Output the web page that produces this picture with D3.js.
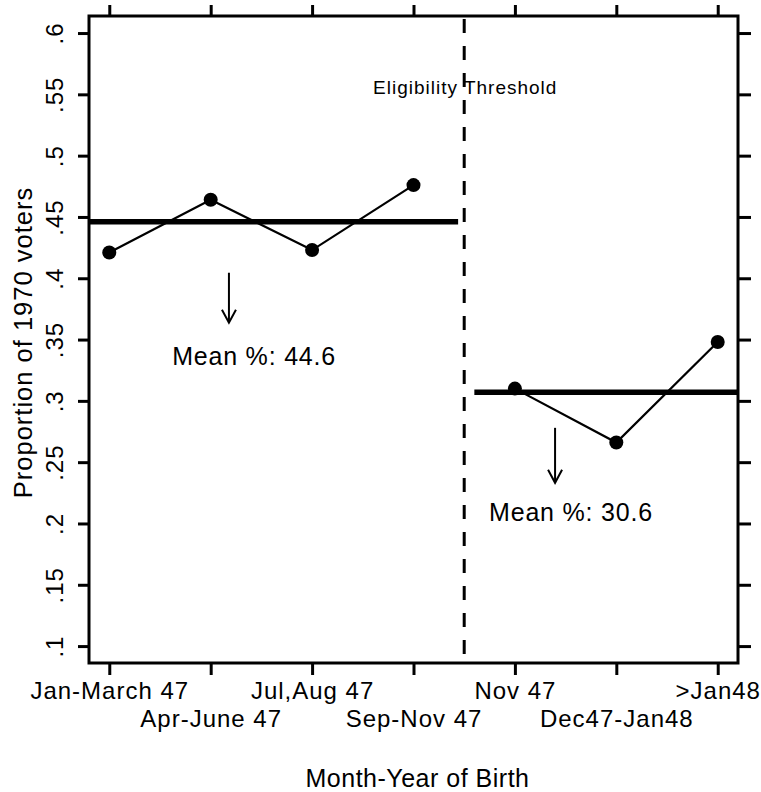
<!DOCTYPE html>
<html>
<head>
<meta charset="utf-8">
<script src="https://cdn.jsdelivr.net/npm/d3@7"></script>
<style>
  body { margin: 0; background: #fff; }
  svg text { font-family: "Liberation Sans", Arial, sans-serif; fill: #000; }
</style>
</head>
<body>
<svg id="chart" width="761" height="792"></svg>
<script>
// categories on the x axis (month-year of birth)
const categories = ["Jan-March 47", "Apr-June 47", "Jul,Aug 47", "Sep-Nov 47", "Nov 47", "Dec47-Jan48", ">Jan48"]
// proportion of 1970 voters in each group
const voterShare = [0.421, 0.464, 0.423, 0.476, 0.310, 0.266, 0.348]
// group means, before and after the threshold
const meanValues = [0.446, 0.307]
const meanLabels = ["Mean %: 44.6", "Mean %: 30.6"]
// y ticks
const yTicks = [0.1, 0.15, 0.2, 0.25, 0.3, 0.35, 0.4, 0.45, 0.5, 0.55, 0.6]
const yTickLabels = [".1", ".15", ".2", ".25", ".3", ".35", ".4", ".45", ".5", ".55", ".6"]

const svg = d3.select('#chart')
const pLeft = 89, pRight = 738, pTop = 16, pBottom = 663

const x = d3.scaleLinear().domain([0.8, 7.2]).range([pLeft, pRight])
const y = d3.scaleLinear().domain([0.0862, 0.6139]).range([pBottom, pTop])
const threshold = 4.5

const fontFam = '"Liberation Sans", Arial, sans-serif'

// Left axis
const yAxis = svg.append('g')
    .attr('transform', `translate(${pLeft},0)`)
    .call(d3.axisLeft(y).tickValues(yTicks).tickSize(11).tickFormat((d, i) => yTickLabels[i]))
yAxis.select('.domain').remove()
yAxis.selectAll('line').attr('stroke', '#000').attr('stroke-width', 3)
yAxis.selectAll('text')
    .attr('transform', 'rotate(-90)')
    .attr('x', 0).attr('dx', null)
    .attr('y', -26).attr('dy', null)
    .attr('text-anchor', 'middle')
    .style('font-size', '24px')
    .style('font-family', fontFam)
    .style('letter-spacing', '1px')

// Right axis (ticks only)
const yAxisR = svg.append('g')
    .attr('transform', `translate(${pRight},0)`)
    .call(d3.axisRight(y).tickValues(yTicks).tickSize(13).tickFormat(''))
yAxisR.select('.domain').remove()
yAxisR.selectAll('line').attr('stroke', '#000').attr('stroke-width', 3)

// Bottom axis, labels on two alternating rows
const xAxis = svg.append('g')
    .attr('transform', `translate(0,${pBottom})`)
    .call(d3.axisBottom(x).tickValues(d3.range(1, 8)).tickSize(12).tickFormat((d) => categories[d - 1]))
xAxis.select('.domain').remove()
xAxis.selectAll('line').attr('stroke', '#000').attr('stroke-width', 3)
xAxis.selectAll('text')
    .attr('dy', null)
    .attr('y', (d) => d % 2 === 1 ? 36 : 64)
    .style('font-size', '24px')
    .style('font-family', fontFam)
    .style('letter-spacing', '1px')

// Top axis (ticks only)
const xAxisT = svg.append('g')
    .attr('transform', `translate(0,${pTop})`)
    .call(d3.axisTop(x).tickValues(d3.range(1, 8)).tickSize(11).tickFormat(''))
xAxisT.select('.domain').remove()
xAxisT.selectAll('line').attr('stroke', '#000').attr('stroke-width', 3)

// Frame
svg.append('rect')
    .attr('x', pLeft).attr('y', pTop)
    .attr('width', pRight - pLeft).attr('height', pBottom - pTop)
    .attr('fill', 'none').attr('stroke', '#000').attr('stroke-width', 3)

// Eligibility threshold
svg.append('line')
    .attr('x1', x(threshold)).attr('x2', x(threshold))
    .attr('y1', pTop + 3).attr('y2', pBottom)
    .attr('stroke', '#000').attr('stroke-width', 3)
    .attr('stroke-dasharray', '14,13')

svg.append('text')
    .attr('x', x(threshold) + 1).attr('y', 94)
    .attr('text-anchor', 'middle')
    .style('font-size', '19px')
    .style('letter-spacing', '1px')
    .text('Eligibility Threshold')

// Mean lines
const meanSpans = [[0.8, 4.44], [4.6, 7.2]]
meanValues.forEach((m, i) => {
  svg.append('line')
      .attr('x1', x(meanSpans[i][0])).attr('x2', x(meanSpans[i][1]))
      .attr('y1', y(m)).attr('y2', y(m))
      .attr('stroke', '#000').attr('stroke-width', 5.5)
})

// Connected points, one line for each side of the threshold
const line = d3.line().x((d) => x(d.i)).y((d) => y(d.v))
const pts = voterShare.map((v, k) => ({ i: k + 1, v: v }))
const groups = [pts.filter((d) => d.i < threshold), pts.filter((d) => d.i > threshold)]
groups.forEach((g) => {
  svg.append('path')
      .attr('d', line(g))
      .attr('fill', 'none').attr('stroke', '#000').attr('stroke-width', 2.2)
})
svg.selectAll('circle.pt')
    .data(pts)
    .enter().append('circle')
    .attr('class', 'pt')
    .attr('cx', (d) => x(d.i)).attr('cy', (d) => y(d.v))
    .attr('r', 7)
    .attr('fill', '#000')

// Arrows and mean labels
const arrows = [
  { x: 2.18, y1: 0.4045, y2: 0.3637, tx: 1.62, ty: 0.3294 },
  { x: 5.396, y1: 0.278, y2: 0.2332, tx: 4.745, ty: 0.2022 }
]
arrows.forEach((a, i) => {
  const ax = x(a.x), ay1 = y(a.y1), ay2 = y(a.y2)
  svg.append('line')
      .attr('x1', ax).attr('x2', ax).attr('y1', ay1).attr('y2', ay2)
      .attr('stroke', '#000').attr('stroke-width', 2)
  svg.append('path')
      .attr('d', `M${ax - 7},${ay2 - 13}L${ax},${ay2}L${ax + 7},${ay2 - 13}`)
      .attr('fill', 'none').attr('stroke', '#000').attr('stroke-width', 2)
  svg.append('text')
      .attr('x', x(a.tx)).attr('y', y(a.ty))
      .style('font-size', '25px')
      .style('letter-spacing', '0.8px')
      .text(meanLabels[i])
})

// Axis titles
svg.append('text')
    .attr('transform', `translate(32,${(pTop + pBottom) / 2 + 3}) rotate(-90)`)
    .attr('text-anchor', 'middle')
    .style('font-size', '25.5px')
    .style('letter-spacing', '1px')
    .text('Proportion of 1970 voters')

svg.append('text')
    .attr('x', (pLeft + pRight) / 2 + 4).attr('y', 787)
    .attr('text-anchor', 'middle')
    .style('font-size', '25px')
    .style('letter-spacing', '0.5px')
    .text('Month-Year of Birth')
</script>
</body>
</html>
